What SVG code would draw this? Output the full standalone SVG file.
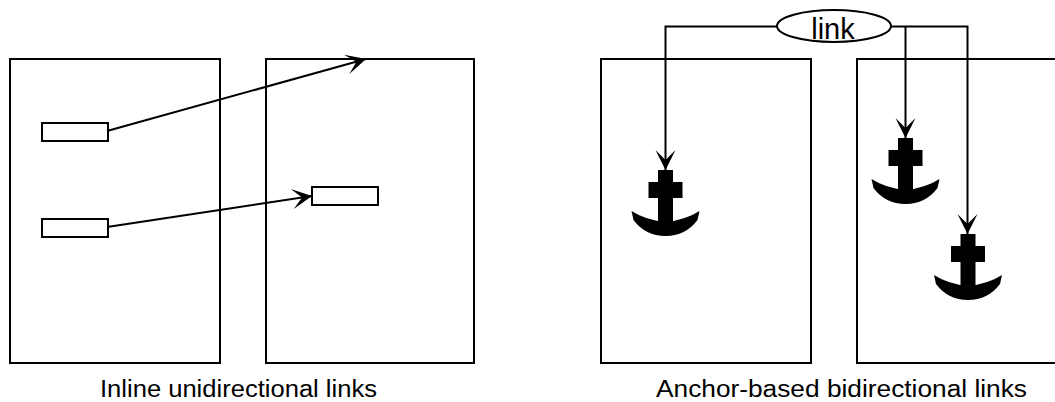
<svg xmlns="http://www.w3.org/2000/svg" width="1055" height="402" viewBox="0 0 1055 402">
  <style>
    .box { fill: #ffffff; stroke: #000000; stroke-width: 2; }
    .conn { fill: none; stroke: #000000; stroke-width: 2; }
    .anchor { fill: #000000; stroke: none; }
    .cap { font-family: "Liberation Sans", Arial, sans-serif; font-size: 23px; fill: #000000; }
    .lbl { font-family: "Liberation Sans", Arial, sans-serif; font-size: 29px; fill: #000000; }
  </style>
  <defs>
    <marker id="arrow" markerUnits="userSpaceOnUse" markerWidth="22" markerHeight="22" refX="20" refY="11" orient="auto" overflow="visible">
      <path d="M0,1 L20,11 L0,21 L10,11 Z" fill="#000000"/>
    </marker>
    <g id="anchorShape">
      <rect x="-7.5" y="0" width="15" height="56"/>
      <rect x="-17" y="12" width="34" height="16"/>
      <path d="M-34,41 L-32,50 Q-20,66 0,66 Q20,66 32,50 L34,41 Q20,50 0,52 Q-20,50 -34,41 Z"/>
    </g>
  </defs>
  <rect width="1055" height="402" fill="#ffffff"/>

  <!-- Left panel -->
  <g id="page1"><rect class="box" x="10" y="59" width="210" height="304"/></g>
  <g id="page2"><rect class="box" x="266" y="59" width="208" height="304"/></g>
  <g id="inline1"><rect class="box" x="42" y="123" width="66" height="18"/></g>
  <g id="inline2"><rect class="box" x="42" y="219" width="66" height="18"/></g>
  <g id="target2"><rect class="box" x="312" y="187" width="66" height="18"/></g>

  <!-- Right panel -->
  <g id="page3"><rect class="box" x="601" y="59" width="210" height="304"/></g>
  <g id="page4"><rect class="box" x="857" y="59" width="212" height="304"/></g>
  <g id="anchor1" class="anchor"><use href="#anchorShape" x="665.5" y="170"/></g>
  <g id="anchor2" class="anchor"><use href="#anchorShape" x="905.5" y="138"/></g>
  <g id="anchor3" class="anchor"><use href="#anchorShape" x="968" y="234"/></g>

  <g id="connectors">
    <line class="conn" x1="107" y1="131" x2="366" y2="59" marker-end="url(#arrow)"/>
    <line class="conn" x1="107" y1="227" x2="312" y2="196" marker-end="url(#arrow)"/>
    <path class="conn" d="M777,26.5 H665.5 V170" marker-end="url(#arrow)"/>
    <path class="conn" d="M891,26.5 H967.5 V234" marker-end="url(#arrow)"/>
    <path class="conn" d="M905.5,26.5 V138" marker-end="url(#arrow)"/>
  </g>

  <g id="link">
    <ellipse class="box" cx="834" cy="26" rx="57" ry="16"/>
    <text class="lbl" x="833" y="39" text-anchor="middle">link</text>
  </g>

  <g id="captions">
    <text class="cap" x="100" y="396.5" textLength="277" lengthAdjust="spacingAndGlyphs">Inline unidirectional links</text>
    <text class="cap" x="656" y="396.5" textLength="371" lengthAdjust="spacingAndGlyphs">Anchor-based bidirectional links</text>
  </g>
</svg>
